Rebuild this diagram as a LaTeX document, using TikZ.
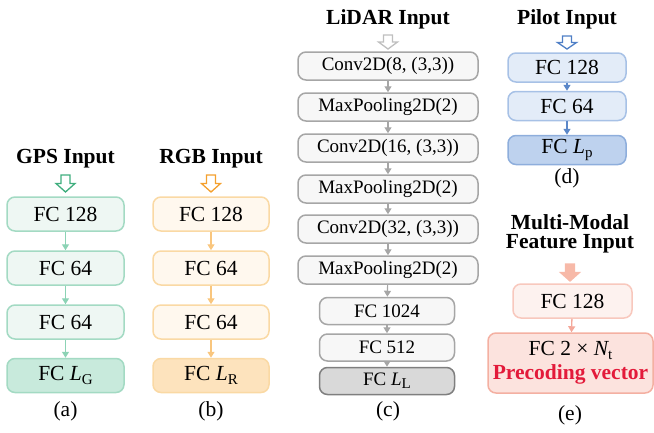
\documentclass[tikz,border=0pt]{standalone}
\usepackage{fontspec}
\setmainfont{Liberation Serif}
\usetikzlibrary{arrows.meta}
\definecolor{gfill}{HTML}{EEF7F3}\definecolor{gdraw}{HTML}{A3DAC3}\definecolor{glast}{HTML}{C8EADC}\definecolor{garr}{HTML}{8CD3B5}\definecolor{ghol}{HTML}{3FAE7E}
\definecolor{rfill}{HTML}{FFF8EE}\definecolor{rdraw}{HTML}{FAD9A4}\definecolor{rlast}{HTML}{FDE3BD}\definecolor{rarr}{HTML}{F9C67E}\definecolor{rhol}{HTML}{F4A02E}
\definecolor{lfill}{HTML}{F7F7F7}\definecolor{ldraw}{HTML}{A6A6A6}\definecolor{llast}{HTML}{D9D9D9}\definecolor{lldraw}{HTML}{7F7F7F}\definecolor{larr}{HTML}{A6A6A6}\definecolor{lhol}{HTML}{BFBFBF}
\definecolor{pfill}{HTML}{E3ECF8}\definecolor{pdraw}{HTML}{A7C1E6}\definecolor{plast}{HTML}{BED2EE}\definecolor{pldraw}{HTML}{8EAEDC}\definecolor{parr}{HTML}{5B87C8}\definecolor{phol}{HTML}{4F7FC6}
\definecolor{mfill}{HTML}{FDF2EF}\definecolor{mdraw}{HTML}{F8C8BD}\definecolor{mlast}{HTML}{FCE3DE}\definecolor{mldraw}{HTML}{F4B0A2}\definecolor{marr}{HTML}{F4A89A}\definecolor{mhol}{HTML}{F7B9A8}\definecolor{mred}{HTML}{E31A3A}
\newcommand\mysb[1]{\raisebox{-0.35ex}{\fontsize{15}{15}\selectfont #1}}
\newcommand\bigtxt{\fontsize{21.5}{24}\selectfont}
\newcommand\tighttxt{\fontsize{21.5}{19.5}\selectfont}
\newcommand\lidtxt{\fontsize{19}{22}\selectfont}
\begin{document}
\begin{tikzpicture}[x=1pt,y=-1pt,
  layer/.style={rounded corners=8pt, line width=1.5pt, inner sep=0pt, font=\bigtxt},
  gbox/.style={layer, fill=gfill, draw=gdraw, minimum width=117pt, minimum height=34pt},
  rbox/.style={layer, fill=rfill, draw=rdraw, minimum width=116pt, minimum height=34pt},
  lbox/.style={layer, fill=lfill, draw=ldraw, minimum width=180pt, minimum height=28pt, font=\lidtxt},
  lsbox/.style={layer, fill=lfill, draw=ldraw, minimum width=135pt, minimum height=27pt, font=\lidtxt},
  pbox/.style={layer, fill=pfill, draw=pdraw, minimum width=118pt, minimum height=29pt},
  mbox/.style={layer, fill=mfill, draw=mdraw, minimum width=119pt, minimum height=34pt},
  conn/.style={line width=1.3pt, -{Triangle[length=6pt,width=7pt]}},
  title/.style={font=\bigtxt\bfseries, inner sep=0pt},
  captxt/.style={font=\bigtxt, inner sep=0pt},
  harrow/.pic={\path[pic actions] (-4.5,0) -- (-4.5,#1*0.5) -- (-9.5,#1*0.5) -- (0,#1) -- (9.5,#1*0.5) -- (4.5,#1*0.5) -- (4.5,0) -- cycle;},
  hol/.style={line width=1.3pt, fill=white, line join=miter}
]
\useasboundingbox (0,0) rectangle (654,432);
% (a) GPS
\node[title] (gt) at (65.5,159) {GPS Input};
\pic[hol, draw=ghol] at (65.5,175) {harrow=17};
\node[gbox] (g1) at (65.5,214) {FC 128};
\node[gbox] (g2) at (65.5,268) {FC 64};
\node[gbox] (g3) at (65.5,322) {FC 64};
\node[gbox, fill=glast] (g4) at (65.5,375.5) {FC {\itshape L}\mysb{G}};
\foreach \a/\b in {g1/g2,g2/g3,g3/g4} \draw[conn, garr] (\a) -- (\b);
\node[captxt] (ca) at (65.5,411) {(a)};
% (b) RGB
\node[title] (rt) at (211,159) {RGB Input};
\pic[hol, draw=rhol] at (211,175) {harrow=17};
\node[rbox] (r1) at (211,214) {FC 128};
\node[rbox] (r2) at (211,268) {FC 64};
\node[rbox] (r3) at (211,322) {FC 64};
\node[rbox, fill=rlast] (r4) at (211,375.5) {FC {\itshape L}\mysb{R}};
\foreach \a/\b in {r1/r2,r2/r3,r3/r4} \draw[conn, rarr] (\a) -- (\b);
\node[captxt] (cb) at (211,411) {(b)};
% (c) LiDAR
\node[title] (lt) at (388,19) {LiDAR Input};
\pic[hol, draw=lhol] at (388,35) {harrow=14};
\node[lbox] (l1) at (388,66) {Conv2D(8, (3,3))};
\node[lbox] (l2) at (388,107) {MaxPooling2D(2)};
\node[lbox] (l3) at (388,148) {Conv2D(16, (3,3))};
\node[lbox] (l4) at (388,189) {MaxPooling2D(2)};
\node[lbox] (l5) at (388,229) {Conv2D(32, (3,3))};
\node[lbox] (l6) at (388,270) {MaxPooling2D(2)};
\node[lsbox] (l7) at (387,311) {FC 1024};
\node[lsbox] (l8) at (387,347.5) {FC 512};
\node[lsbox, fill=llast, draw=lldraw] (l9) at (387,381) {FC {\itshape L}\mysb{L}};
\foreach \a/\b in {l1/l2,l2/l3,l3/l4,l4/l5,l5/l6,l6/l7,l7/l8,l8/l9} \draw[conn, larr, line width=1.2pt] (\a) -- (\b);
\node[captxt] (cc) at (388,411) {(c)};
% (d) Pilot
\node[title] (pt) at (567,19) {Pilot Input};
\pic[hol, draw=phol] at (567,36) {harrow=13};
\node[pbox] (p1) at (567,67.5) {FC 128};
\node[pbox] (p2) at (567,106) {FC 64};
\node[pbox, fill=plast, draw=pldraw] (p3) at (567,150) {FC {\itshape L}\mysb{p}};
\foreach \a/\b in {p1/p2,p2/p3} \draw[conn, parr] (\a) -- (\b);
\node[captxt] (cd) at (567,178) {(d)};
% (e) Multi-modal
\node[title, font=\tighttxt\bfseries, align=center] (mt) at (570,234) {Multi-Modal\\Feature Input};
\pic[hol, draw=mhol, fill=mhol] at (570,264) {harrow=17};
\node[mbox] (m1) at (572.5,301) {FC 128};
\node[layer, fill=mlast, draw=mldraw, minimum width=165pt, minimum height=60pt, align=center] (m2) at (570.5,363)
  {FC 2 × {\itshape N}\mysb{t}\\[0pt]{\color{mred}\bfseries Precoding vector}};
\draw[conn, marr] (m1) -- (m2);
\node[captxt] (ce) at (570,415) {(e)};
\end{tikzpicture}
\end{document}
